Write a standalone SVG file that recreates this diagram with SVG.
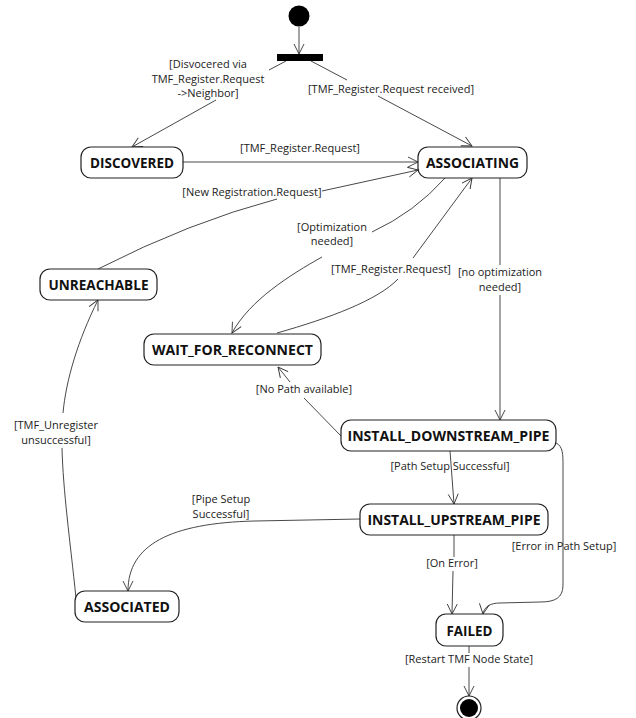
<svg xmlns="http://www.w3.org/2000/svg" width="636" height="718" viewBox="0 0 636 718">
<style>
.node rect{fill:#fff;stroke:#222;stroke-width:1.2}
.node text{font-family:"Open Sans","Liberation Sans",sans-serif;font-weight:bold;font-size:15px;fill:#111;text-anchor:middle}
.edge{fill:none;stroke:#333;stroke-width:0.9}
.lbl{font-family:"Open Sans","Liberation Sans",sans-serif;font-size:11px;fill:#222;text-anchor:middle}
</style>
<defs>
<marker id="arr" markerUnits="userSpaceOnUse" markerWidth="14" markerHeight="14" viewBox="-12 -7 14 14" refX="0" refY="0" orient="auto">
<path d="M-10,-5 L0,0 L-10,5" fill="none" stroke="#333" stroke-width="0.9"/>
</marker>
</defs>

<g id="connectors">
<path class="edge" d="M299,27 L299,54" marker-end="url(#arr)"/>
<path class="edge" d="M286,61 L269,70"/>
<path class="edge" d="M216,100 L132,147" marker-end="url(#arr)"/>
<path class="edge" d="M311,61 L347,80"/>
<path class="edge" d="M378,96 L472,146" marker-end="url(#arr)"/>
<path class="edge" d="M183,162 L418,162" marker-end="url(#arr)"/>
<path class="edge" d="M98,269 Q190,222 277,199"/>
<path class="edge" d="M322,191 L418,170" marker-end="url(#arr)"/>
<path class="edge" d="M445,178 Q415,212 372,232"/>
<path class="edge" d="M322,257 C290,275 250,300 232,333" marker-end="url(#arr)"/>
<path class="edge" d="M277,333 C330,318 378,300 398,279"/>
<path class="edge" d="M413,258 L472,178" marker-end="url(#arr)"/>
<path class="edge" d="M500,178 L500,265"/>
<path class="edge" d="M500,295 L500,420" marker-end="url(#arr)"/>
<path class="edge" d="M341,436 L304,398"/>
<path class="edge" d="M290,382 L278,367" marker-end="url(#arr)"/>
<path class="edge" d="M450,451 L454,504" marker-end="url(#arr)"/>
<path class="edge" d="M360,519 L255,521 C170,523 128,545 128,591" marker-end="url(#arr)"/>
<path class="edge" d="M76,598 C70,540 63,490 62,448"/>
<path class="edge" d="M63,413 C66,380 78,340 98,300" marker-end="url(#arr)"/>
<path class="edge" d="M454,535 L454,557"/>
<path class="edge" d="M453,571 L452,614" marker-end="url(#arr)"/>
<path class="edge" d="M556,443 C563,446 563,455 563,465 L563,585 C563,598 555,602 540,602 L500,603 C490,603 484,607 483,614" marker-end="url(#arr)"/>
<path class="edge" d="M469,646 L469,653"/>
<path class="edge" d="M469,667 L469,696" marker-end="url(#arr)"/>

<text class="lbl" x="208" y="68">[Disvocered via</text>
<text class="lbl" x="208" y="83">TMF_Register.Request</text>
<text class="lbl" x="208" y="97">-&gt;Neighbor]</text>
<text class="lbl" x="391" y="93">[TMF_Register.Request received]</text>
<text class="lbl" x="300" y="152">[TMF_Register.Request]</text>
<text class="lbl" x="252" y="196">[New Registration.Request]</text>
<text class="lbl" x="332" y="231">[Optimization</text>
<text class="lbl" x="332" y="245">needed]</text>
<text class="lbl" x="391" y="273">[TMF_Register.Request]</text>
<text class="lbl" x="500" y="276">[no optimization</text>
<text class="lbl" x="500" y="291">needed]</text>
<text class="lbl" x="304" y="393">[No Path available]</text>
<text class="lbl" x="56" y="429">[TMF_Unregister</text>
<text class="lbl" x="56" y="444">unsuccessful]</text>
<text class="lbl" x="450" y="470">[Path Setup Successful]</text>
<text class="lbl" x="221" y="503">[Pipe Setup</text>
<text class="lbl" x="221" y="518">Successful]</text>
<text class="lbl" x="564" y="550">[Error in Path Setup]</text>
<text class="lbl" x="452" y="567">[On Error]</text>
<text class="lbl" x="469" y="663">[Restart TMF Node State]</text>
</g>

<g id="initial"><circle cx="299" cy="16" r="10.5" fill="#000"/></g>
<g id="fork"><rect x="277" y="54" width="46" height="7" fill="#000"/></g>

<g id="discovered" class="node"><rect x="81" y="147" width="102" height="31" rx="10"/><text x="132" y="168" textLength="84" lengthAdjust="spacingAndGlyphs">DISCOVERED</text></g>
<g id="associating" class="node"><rect x="418" y="147" width="109" height="31" rx="10"/><text x="472.5" y="168" textLength="93" lengthAdjust="spacingAndGlyphs">ASSOCIATING</text></g>
<g id="unreachable" class="node"><rect x="40" y="269" width="117" height="31" rx="10"/><text x="98.5" y="290" textLength="100" lengthAdjust="spacingAndGlyphs">UNREACHABLE</text></g>
<g id="wait_for_reconnect" class="node"><rect x="144" y="334" width="177" height="31" rx="10"/><text x="232.5" y="355" textLength="161" lengthAdjust="spacingAndGlyphs">WAIT_FOR_RECONNECT</text></g>
<g id="install_downstream_pipe" class="node"><rect x="341" y="420" width="215" height="31" rx="10"/><text x="448.5" y="441" textLength="202" lengthAdjust="spacingAndGlyphs">INSTALL_DOWNSTREAM_PIPE</text></g>
<g id="install_upstream_pipe" class="node"><rect x="360" y="504" width="188" height="31" rx="10"/><text x="454" y="525" textLength="173" lengthAdjust="spacingAndGlyphs">INSTALL_UPSTREAM_PIPE</text></g>
<g id="associated" class="node"><rect x="75" y="591" width="104" height="31" rx="10"/><text x="127" y="612" textLength="86" lengthAdjust="spacingAndGlyphs">ASSOCIATED</text></g>
<g id="failed" class="node"><rect x="436" y="614" width="67" height="32" rx="10"/><text x="469.5" y="635.5" textLength="46" lengthAdjust="spacingAndGlyphs">FAILED</text></g>
<g id="final"><circle cx="469" cy="708" r="12" fill="#fff" stroke="#222" stroke-width="1.2"/><circle cx="469" cy="708" r="9" fill="#000"/></g>
</svg>
